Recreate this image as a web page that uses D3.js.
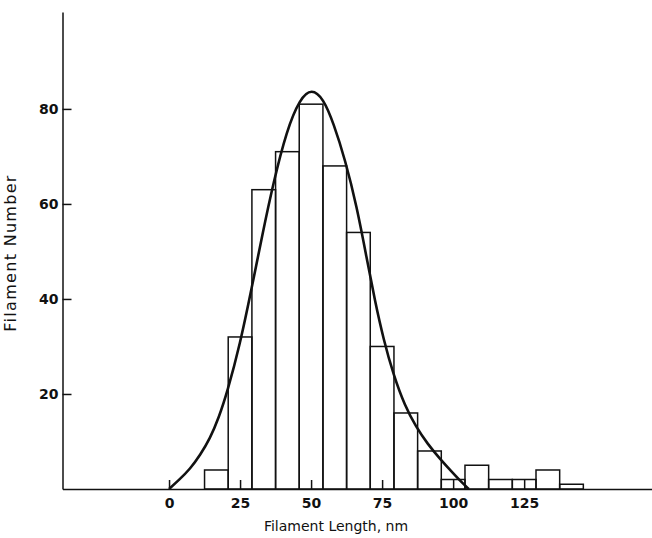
<!DOCTYPE html>
<html lang="en">
<head>
    <meta charset="UTF-8">
    <script src="https://d3js.org/d3.v7.min.js"></script>
    <title>index</title>
    <style>
        body { margin: 0; background: #fff; }
        .axis path, .axis line { stroke: #111; stroke-width: 1.5; }
        .axis text { font-family: "DejaVu Sans", sans-serif; font-weight: bold; font-size: 14px; fill: #111; }
        .title { font-family: "DejaVu Sans", sans-serif; fill: #111; }
    </style>
</head>
<body>
    <div id="chart"></div>
    <script>
        // histogram bins (nm) and filament counts
        var binEdges = [12.5, 20.83, 29.17, 37.5, 45.83, 54.17, 62.5, 70.83, 79.17, 87.5, 95.83, 104.17, 112.5, 120.83, 129.17, 137.5, 145.83];
        var binCounts = [4, 32, 63, 71, 81, 68, 54, 30, 16, 8, 2, 5, 2, 2, 4, 1];

        // fitted curve
        var curveLength = [0, 3.5, 7.4, 11, 14.4, 17.5, 20.5, 25, 29, 33, 36.7, 41.4, 46.1, 50.2, 54.3, 57.9, 62, 66.1, 69.6, 72.5, 75.5, 79, 83, 87, 91, 95.4, 100, 103, 105.5];
        var curveNumber = [0, 1.9, 4.2, 7.2, 10.6, 15.0, 20.4, 30.5, 42, 54, 64.4, 75.5, 82.2, 84.3, 82.2, 77, 69.3, 59.4, 48.5, 39.5, 31.5, 24, 17.5, 13, 9.5, 6.3, 3.3, 1.4, 0];

        var xTicks = [0, 25, 50, 75, 100, 125];
        var yTicks = [20, 40, 60, 80];

        var width = 652, height = 538;

        var x = d3.scaleLinear().domain([-37.5, 170]).range([62.5, 652]);
        var y = d3.scaleLinear().domain([0, 100.4]).range([489, 12]);

        var svg = d3.select('#chart')
                    .append('svg')
                        .attr('width', width)
                        .attr('height', height);

        // bars
        svg.selectAll('.bar')
            .data(binCounts)
            .enter()
            .append('rect')
                .attr('class', 'bar')
                .attr('x', function(d, i) { return x(binEdges[i]); })
                .attr('y', function(d) { return y(d); })
                .attr('width', function(d, i) { return x(binEdges[i + 1]) - x(binEdges[i]); })
                .attr('height', function(d) { return y(0) - y(d); })
                .attr('fill', 'none')
                .attr('stroke', '#111')
                .attr('stroke-width', 1.5);

        // curve
        var line = d3.line()
                    .x(function(d) { return x(d[0]); })
                    .y(function(d) { return y(d[1]); })
                    .curve(d3.curveBasis);

        svg.append('path')
            .datum(d3.zip(curveLength, curveNumber))
            .attr('d', line)
            .attr('fill', 'none')
            .attr('stroke', '#111')
            .attr('stroke-width', 2.6);

        // axes
        svg.append('g')
            .attr('class', 'axis')
            .attr('transform', 'translate(0,' + y(0) + ')')
            .call(d3.axisBottom(x).tickValues(xTicks).tickSizeInner(-9).tickSizeOuter(0).tickPadding(9));

        svg.append('g')
            .attr('class', 'axis')
            .attr('transform', 'translate(' + x.range()[0] + ',0)')
            .call(d3.axisLeft(y).tickValues(yTicks).tickSizeInner(-9).tickSizeOuter(0).tickPadding(4));

        // titles
        svg.append('text')
            .attr('class', 'title')
            .attr('x', 336)
            .attr('y', 531)
            .attr('text-anchor', 'middle')
            .style('font-size', '14px')
            .text('Filament Length, nm');

        svg.append('text')
            .attr('class', 'title')
            .attr('transform', 'translate(16,253) rotate(-90)')
            .attr('text-anchor', 'middle')
            .style('font-size', '16px')
            .style('letter-spacing', '1.3px')
            .text('Filament Number');
    </script>
</body>
</html>
